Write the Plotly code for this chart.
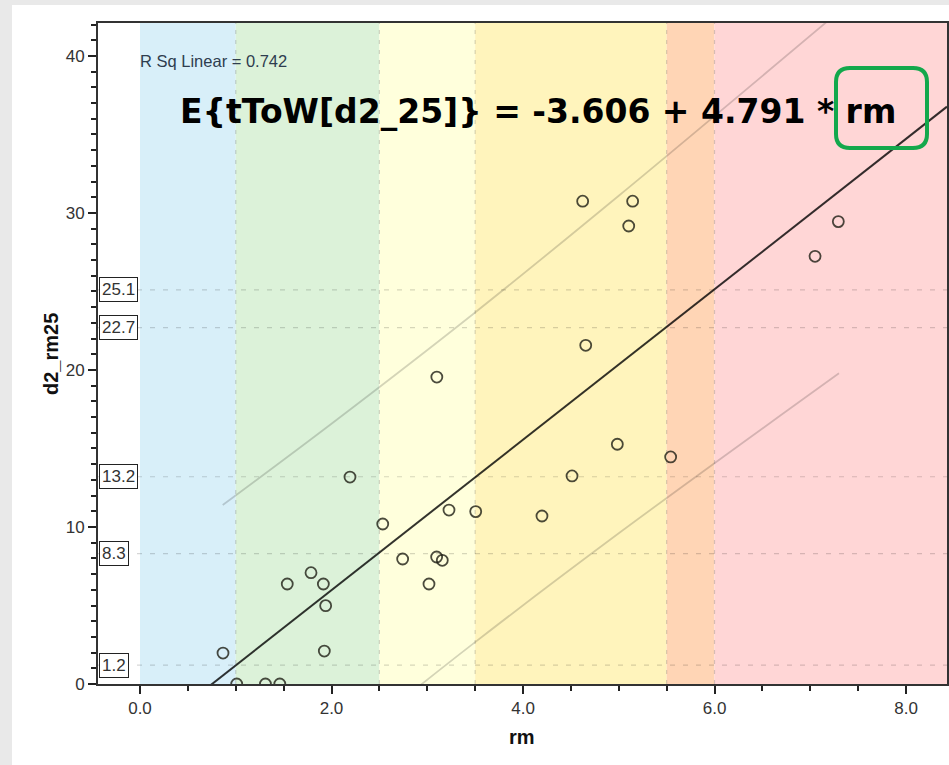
import plotly.graph_objects as go

# ---- data ----
rm = [0.867, 1.01, 1.31, 1.46, 1.538, 1.786, 1.915, 1.939, 1.925, 2.193, 2.535, 2.743,
      3.018, 3.098, 3.157, 3.10, 3.227, 3.506, 4.198, 4.512, 4.623, 4.655, 4.985,
      5.104, 5.145, 5.542, 7.05, 7.293]
d2_rm25 = [1.97, 0.0, 0.0, 0.0, 6.37, 7.09, 6.37, 4.99, 2.1, 13.18, 10.19, 7.96,
           6.37, 8.09, 7.88, 19.55, 11.08, 10.98, 10.7, 13.25, 30.75, 21.57, 15.27,
           29.17, 30.75, 14.46, 27.24, 29.45]

intercept = -3.606
slope = 4.791
r_sq = 0.742

# prediction interval lines
pi_x = [0.864, 2.0, 3.48, 5.0, 7.30]
pi_upper = [11.4, 16.58, 23.57, 31.1, 42.83]
pi_lower = [-10.34, -4.62, 2.57, 9.6, 19.79]

# coloured bands on rm
band_edges = [0.0, 1.0, 2.5, 3.5, 5.5, 6.0, 8.43]
band_colors = ["#d8eff9", "#dcf2d9", "#ffffdc", "#fff4bc", "#ffd5b5", "#ffd6d6"]
vline_vals = [1.0, 2.5, 3.5, 5.5, 6.0]

# reference levels on d2_rm25
ref_levels = [1.2, 8.3, 13.2, 22.7, 25.1]
ref_labels = ["1.2", "8.3", "13.2", "22.7", "25.1"]

x_range = [-0.4386, 8.428]
y_range = [0, 42.1]

W, H = 949, 765
ML, MR, MT, MB = 98, 2, 23, 81
PW, PH = W - ML - MR, H - MT - MB


def px_x(p):
    return (p - ML) / PW


def px_y(p):
    return (H - MB - p) / PH


fig = go.Figure()

# regression line across the full axis
fig.add_trace(go.Scatter(
    x=[x_range[0], x_range[1]],
    y=[intercept + slope * x_range[0], intercept + slope * x_range[1]],
    mode="lines", line=dict(color="rgba(0,0,0,0.8)", width=2),
    hoverinfo="skip", showlegend=False))

fig.add_trace(go.Scatter(x=pi_x, y=pi_upper, mode="lines",
                         line=dict(color="rgba(0,0,0,0.17)", width=1.8),
                         line_shape="spline", showlegend=False, hoverinfo="skip"))
fig.add_trace(go.Scatter(x=pi_x, y=pi_lower, mode="lines",
                         line=dict(color="rgba(0,0,0,0.17)", width=1.8),
                         line_shape="spline", showlegend=False, hoverinfo="skip"))

fig.add_trace(go.Scatter(
    x=rm, y=d2_rm25, mode="markers",
    marker=dict(symbol="circle-open", size=11, color="rgba(30,30,20,0.8)",
                line=dict(width=1.8)),
    showlegend=False, cliponaxis=True))

shapes = []
# gray outer frame strips
shapes.append(dict(type="rect", xref="paper", yref="paper",
                   x0=px_x(0), x1=px_x(12), y0=px_y(H), y1=px_y(0),
                   fillcolor="#e9e9e9", line_width=0, layer="below"))
shapes.append(dict(type="rect", xref="paper", yref="paper",
                   x0=px_x(0), x1=px_x(W), y0=px_y(5), y1=px_y(0),
                   fillcolor="#e9e9e9", line_width=0, layer="below"))
for i, c in enumerate(band_colors):
    shapes.append(dict(type="rect", xref="x", yref="paper",
                       x0=band_edges[i], x1=band_edges[i + 1], y0=0, y1=1,
                       fillcolor=c, line_width=0, layer="below"))
for v in vline_vals:
    shapes.append(dict(type="line", xref="x", yref="paper", x0=v, x1=v, y0=0, y1=1,
                       line=dict(color="rgba(0,0,0,0.16)", width=1.2, dash="4px,6px"),
                       layer="below"))
for lv in ref_levels:
    shapes.append(dict(type="line", xref="paper", yref="y", x0=0, x1=1, y0=lv, y1=lv,
                       line=dict(color="rgba(0,0,0,0.16)", width=1.2, dash="5px,8px"),
                       layer="below"))

# green rounded box around "rm"
bx0, bx1 = px_x(836), px_x(927)
by0, by1 = px_y(148), px_y(68)
rx, ry = 14 / PW, 14 / PH
path = (f"M {bx0+rx},{by1} L {bx1-rx},{by1} Q {bx1},{by1} {bx1},{by1-ry} "
        f"L {bx1},{by0+ry} Q {bx1},{by0} {bx1-rx},{by0} L {bx0+rx},{by0} "
        f"Q {bx0},{by0} {bx0},{by0+ry} L {bx0},{by1-ry} Q {bx0},{by1} {bx0+rx},{by1} Z")
shapes.append(dict(type="path", xref="paper", yref="paper", path=path,
                   line=dict(color="#13a84c", width=4), layer="above"))

annotations = []
for lv, lab in zip(ref_levels, ref_labels):
    annotations.append(dict(xref="paper", yref="y", x=px_x(99), y=lv, xanchor="left",
                            yanchor="middle", text=lab, showarrow=False,
                            font=dict(family="Liberation Sans, Arial", size=17, color="#333"),
                            bgcolor="white", bordercolor="#222", borderwidth=1, borderpad=2))
annotations.append(dict(xref="paper", yref="paper", x=px_x(138), y=px_y(61),
                        xanchor="left", yanchor="middle",
                        text=f"R Sq Linear = {r_sq}", showarrow=False,
                        font=dict(family="Liberation Sans, Arial", size=16.5, color="#2e3d4f")))
annotations.append(dict(xref="paper", yref="paper", x=px_x(178), y=px_y(112),
                        xanchor="left", yanchor="middle",
                        text=f"<b>E{{tToW[d2_25]}} = {intercept} + {slope} * rm</b>",
                        showarrow=False,
                        font=dict(family="DejaVu Sans", size=33, color="#000")))
annotations.append(dict(xref="paper", yref="paper", x=px_x(522), y=px_y(737),
                        xanchor="center", yanchor="middle", text="<b>rm</b>", showarrow=False,
                        font=dict(family="Liberation Sans, Arial", size=20, color="#111")))
annotations.append(dict(xref="paper", yref="paper", x=px_x(51), y=px_y(354),
                        xanchor="center", yanchor="middle", text="<b>d2_rm25</b>",
                        textangle=-90, showarrow=False,
                        font=dict(family="Liberation Sans, Arial", size=20, color="#111")))

axis_common = dict(showgrid=False, zeroline=False, showline=True, linecolor="#333",
                   linewidth=2, mirror=True, ticks="outside", ticklen=8, tickwidth=2,
                   tickcolor="#222",
                   tickfont=dict(family="Liberation Sans, Arial", size=17, color="#333"))

fig.update_layout(
    width=W, height=H,
    margin=dict(l=ML, r=MR, t=MT, b=MB, autoexpand=False),
    paper_bgcolor="white", plot_bgcolor="white",
    shapes=shapes, annotations=annotations,
    xaxis=dict(range=x_range, tick0=0, dtick=2, tickformat=".1f",
               minor=dict(dtick=0.5, tick0=0, ticks="outside", ticklen=5, tickwidth=2,
                          tickcolor="#222"),
               **axis_common),
    yaxis=dict(range=y_range, tick0=0, dtick=10,
               minor=dict(dtick=1, tick0=0, ticks="outside", ticklen=5, tickwidth=2,
                          tickcolor="#222"),
               **axis_common),
)

fig.write_html("out.html", config={"displayModeBar": False},
               post_script="document.body.style.margin='0';document.body.style.overflow='hidden';")
